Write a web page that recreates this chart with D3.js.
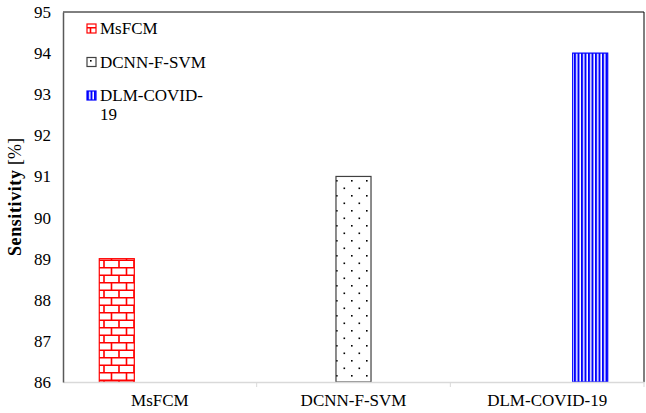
<!DOCTYPE html>
<html>
<head>
<meta charset="utf-8">
<script src="https://cdn.jsdelivr.net/npm/d3@7"></script>
<style>
  body { margin: 0; background: #fff; }
  svg text { font-family: "Liberation Serif", "Times New Roman", serif; }
</style>
</head>
<body>
<svg id="chart" width="646" height="413"></svg>
<script>
const categories = ["MsFCM", "DCNN-F-SVM", "DLM-COVID-19"];
const seriesNames = ["MsFCM", "DCNN-F-SVM", "DLM-COVID-19"];
const sensitivity = [89, 91, 94];
const yTicks = [86, 87, 88, 89, 90, 91, 92, 93, 94, 95];

const svg = d3.select("#chart");
const margin = { top: 12, right: 2, bottom: 31, left: 63 };
const width = 646 - margin.left - margin.right;
const height = 413 - margin.top - margin.bottom;
const serif = "'Liberation Serif', 'Times New Roman', serif";

// patterns
const defs = svg.append("defs");

const brick = defs.append("pattern")
  .attr("id", "brick").attr("patternUnits", "userSpaceOnUse")
  .attr("width", 15).attr("height", 15);
brick.append("rect").attr("width", 15).attr("height", 15).attr("fill", "#fff");
brick.append("path")
  .attr("d", "M0,0.75H15M0,8.25H15M3.5,0.75V8.25M11,8.25V15")
  .attr("stroke", "#ff0000").attr("stroke-width", 1.6).attr("fill", "none");

const dots = defs.append("pattern")
  .attr("id", "dots").attr("patternUnits", "userSpaceOnUse")
  .attr("width", 15).attr("height", 15);
dots.append("rect").attr("width", 15).attr("height", 15).attr("fill", "#fff");
dots.append("rect").attr("x", 3).attr("y", 3).attr("width", 1.6).attr("height", 1.6).attr("fill", "#000");
dots.append("rect").attr("x", 10.5).attr("y", 10.5).attr("width", 1.6).attr("height", 1.6).attr("fill", "#000");

const stripes = defs.append("pattern")
  .attr("id", "stripes").attr("patternUnits", "userSpaceOnUse")
  .attr("width", 3.5).attr("height", 4);
stripes.append("rect").attr("width", 3.5).attr("height", 4).attr("fill", "#fff");
stripes.append("rect").attr("width", 2).attr("height", 4).attr("fill", "#0000ff");

const fills = ["url(#brick)", "url(#dots)", "url(#stripes)"];
const strokes = ["#ff0000", "#404040", "#0000ff"];

const g = svg.append("g").attr("transform", `translate(${margin.left},${margin.top})`);

const x0 = d3.scaleBand().domain(categories).range([0, width]).padding(0);
const x1 = d3.scaleBand().domain(seriesNames).range([0, x0.bandwidth()])
  .paddingInner(0.186).paddingOuter(0.843);
const y = d3.scaleLinear().domain([86, 95]).range([height, 0]);

// frame top/right
g.append("path")
  .attr("d", `M0,0H${width}V${height}`)
  .attr("fill", "none").attr("stroke", "#000").attr("stroke-width", 1);

// bars
categories.forEach((c, i) => {
  const s = seriesNames[i];
  g.append("rect")
    .attr("x", x0(c) + x1(s))
    .attr("y", y(sensitivity[i]))
    .attr("width", x1.bandwidth())
    .attr("height", height - y(sensitivity[i]))
    .attr("fill", fills[i])
    .attr("stroke", strokes[i])
    .attr("stroke-width", 1.2);
});

// x axis
const xAxis = g.append("g")
  .attr("transform", `translate(0,${height})`)
  .call(d3.axisBottom(x0).tickSize(0).tickPadding(12))
  .attr("font-family", serif).attr("font-size", 17);
xAxis.select(".domain").attr("stroke", "#d9d9d9").attr("stroke-width", 1.5);
xAxis.selectAll("text").attr("fill", "#000");
g.append("g").selectAll("line")
  .data(categories.slice(1).concat(["end"]))
  .enter().append("line")
  .attr("x1", (d) => d === "end" ? width : x0(d))
  .attr("x2", (d) => d === "end" ? width : x0(d))
  .attr("y1", height).attr("y2", height + 5)
  .attr("stroke", "#d9d9d9").attr("stroke-width", 1);

// y axis
const yAxis = g.append("g")
  .call(d3.axisLeft(y).tickValues(yTicks).tickSize(0).tickPadding(12))
  .attr("font-family", serif).attr("font-size", 17);
yAxis.select(".domain").attr("stroke", "#595959").attr("stroke-width", 1.5);
yAxis.selectAll("text").attr("fill", "#000");

// y label
const yl = svg.append("text")
  .attr("transform", `translate(21,${margin.top + height / 2}) rotate(-90)`)
  .attr("text-anchor", "middle")
  .attr("font-family", serif)
  .attr("font-size", 18);
yl.append("tspan").attr("font-weight", "bold").attr("letter-spacing", 0.6).text("Sensitivity");
yl.append("tspan").text(" [%]");

// legend
const legendLines = [["MsFCM"], ["DCNN-F-SVM"], ["DLM-COVID-", "19"]];
const legend = g.append("g").attr("transform", "translate(24,0)");
seriesNames.forEach((s, i) => {
  const cy = 16.5 + i * 33.5;
  legend.append("rect")
    .attr("x", 0).attr("y", cy - 4.5)
    .attr("width", 9).attr("height", 9)
    .attr("fill", fills[i]).attr("stroke", strokes[i]).attr("stroke-width", 1.2);
  const t = legend.append("text")
    .attr("x", 13).attr("y", cy + 5.5)
    .attr("font-family", serif)
    .attr("font-size", 17).attr("fill", "#000");
  legendLines[i].forEach((line, j) => {
    t.append("tspan").attr("x", 13).attr("dy", j === 0 ? 0 : 19).text(line);
  });
});
</script>
</body>
</html>
